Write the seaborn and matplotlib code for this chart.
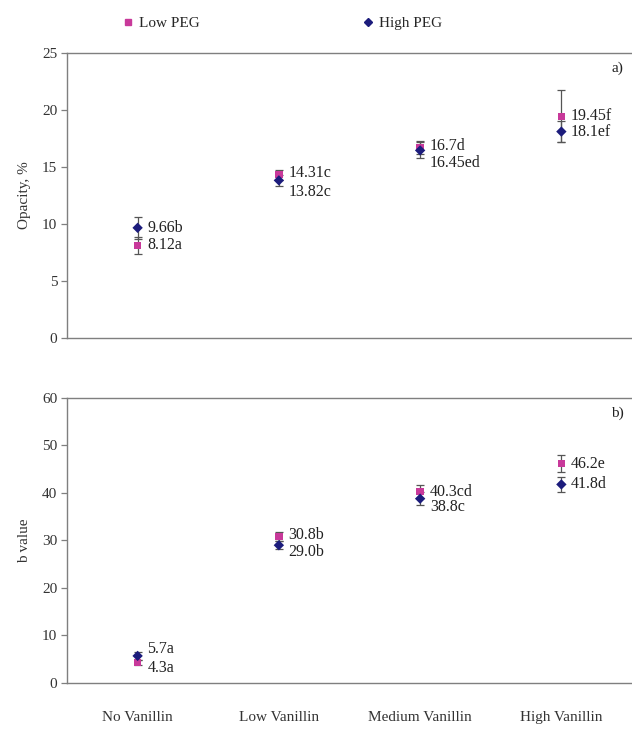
import numpy as np
import pandas as pd
import matplotlib
matplotlib.use("Agg")
import matplotlib.pyplot as plt
import seaborn as sns
from matplotlib.lines import Line2D

categories = ["No Vanillin", "Low Vanillin", "Medium Vanillin", "High Vanillin"]
groups = ["Low PEG", "High PEG"]

# panel a) opacity, %
opacity_low = [8.12, 14.31, 16.7, 19.45]
opacity_high = [9.66, 13.82, 16.45, 18.1]
opacity_low_err = [0.75, 0.45, 0.6, 2.3]
opacity_high_err = [0.95, 0.5, 0.7, 0.9]
opacity_low_lbl = ["8.12a", "14.31c", "16.7d", "19.45f"]
opacity_high_lbl = ["9.66b", "13.82c", "16.45ed", "18.1ef"]

# panel b) b value
bval_low = [4.3, 30.8, 40.3, 46.2]
bval_high = [5.7, 29.0, 38.8, 41.8]
bval_low_err = [0.5, 1.0, 1.4, 1.7]
bval_high_err = [0.8, 0.8, 1.3, 1.5]
bval_low_lbl = ["4.3a", "30.8b", "40.3cd", "46.2e"]
bval_high_lbl = ["5.7a", "29.0b", "38.8c", "41.8d"]

# vertical nudges of the value labels (points)
opacity_low_dy = [0, 1, 1, 0]
opacity_high_dy = [0, -8, -9, 0]
bval_low_dy = [-4, 1, 0, 0]
bval_high_dy = [5, -5, -6, 0]

pink = "#c8399a"
navy = "#1c1c7c"
spine_col = "#7f7f7f"

sns.set_style("white")
plt.rcParams["font.family"] = ["Liberation Serif", "DejaVu Serif"]
plt.rcParams["font.size"] = 11

fig = plt.figure(figsize=(6.32, 7.29), dpi=100)
ax_a = fig.add_axes([0.106, 0.5364, 0.894, 0.391])
ax_b = fig.add_axes([0.106, 0.0631, 0.894, 0.391])


def draw_panel(ax, low, high, low_err, high_err, low_lbl, high_lbl, low_dy, high_dy, ymax, ystep, ylabel, tag):
    df = pd.DataFrame({
        "cat": categories * 2,
        "value": low + high,
        "group": [groups[0]] * 4 + [groups[1]] * 4,
    })
    x = np.arange(len(categories))
    ax.errorbar(x, low, yerr=low_err, fmt="none", ecolor="#555555",
                elinewidth=0.9, capsize=3, capthick=0.9, zorder=1)
    ax.errorbar(x, high, yerr=high_err, fmt="none", ecolor="#555555",
                elinewidth=0.9, capsize=3, capthick=0.9, zorder=1)
    df["x"] = df["cat"].map({c: i for i, c in enumerate(categories)})
    sns.scatterplot(data=df, x="x", y="value", hue="group", style="group",
                    palette={groups[0]: pink, groups[1]: navy},
                    markers={groups[0]: "s", groups[1]: "D"},
                    s=28, linewidth=0, legend=False, ax=ax, zorder=3)
    for i in range(len(categories)):
        ax.annotate(low_lbl[i], (x[i], low[i]), xytext=(7, low_dy[i]),
                    textcoords="offset points", va="center", ha="left",
                    fontsize=11.5, color="#222222")
        ax.annotate(high_lbl[i], (x[i], high[i]), xytext=(7, high_dy[i]),
                    textcoords="offset points", va="center", ha="left",
                    fontsize=11.5, color="#222222")
    ax.set_xlim(-0.5, 3.5)
    ax.set_ylim(0, ymax)
    ax.set_yticks(np.arange(0, ymax + 1, ystep))
    ax.set_ylabel(ylabel, fontsize=11, color="#333333", labelpad=8)
    ax.set_xlabel("")
    for s in ["left", "bottom", "top"]:
        ax.spines[s].set_color(spine_col)
        ax.spines[s].set_linewidth(1.0)
    ax.spines["right"].set_visible(False)
    ax.tick_params(axis="y", left=True, length=4, width=0.9, color=spine_col,
                   labelsize=11, labelcolor="#333333", pad=3)
    ax.text(0.985, 0.945, tag, transform=ax.transAxes, ha="right", va="center",
            fontsize=11, color="#222222")


draw_panel(ax_a, opacity_low, opacity_high, opacity_low_err, opacity_high_err,
           opacity_low_lbl, opacity_high_lbl, opacity_low_dy, opacity_high_dy,
           25, 5, "Opacity, %", "a)")
draw_panel(ax_b, bval_low, bval_high, bval_low_err, bval_high_err,
           bval_low_lbl, bval_high_lbl, bval_low_dy, bval_high_dy,
           60, 10, "b value", "b)")

ax_a.set_xticks([])
ax_b.set_xticks(range(len(categories)))
ax_b.set_xticklabels(categories, fontsize=11, color="#333333")
ax_b.tick_params(axis="x", bottom=False, pad=17)

handles = [
    Line2D([], [], marker="s", linestyle="none", color=pink, markersize=4.5),
    Line2D([], [], marker="D", linestyle="none", color=navy, markersize=3.8),
]
fig.legend(handles, groups, loc="center", bbox_to_anchor=(0.445, 0.968),
           ncol=2, frameon=False, fontsize=11, handletextpad=0.2,
           columnspacing=10.5, handlelength=1.0)

fig.savefig("out.png", dpi=100)
